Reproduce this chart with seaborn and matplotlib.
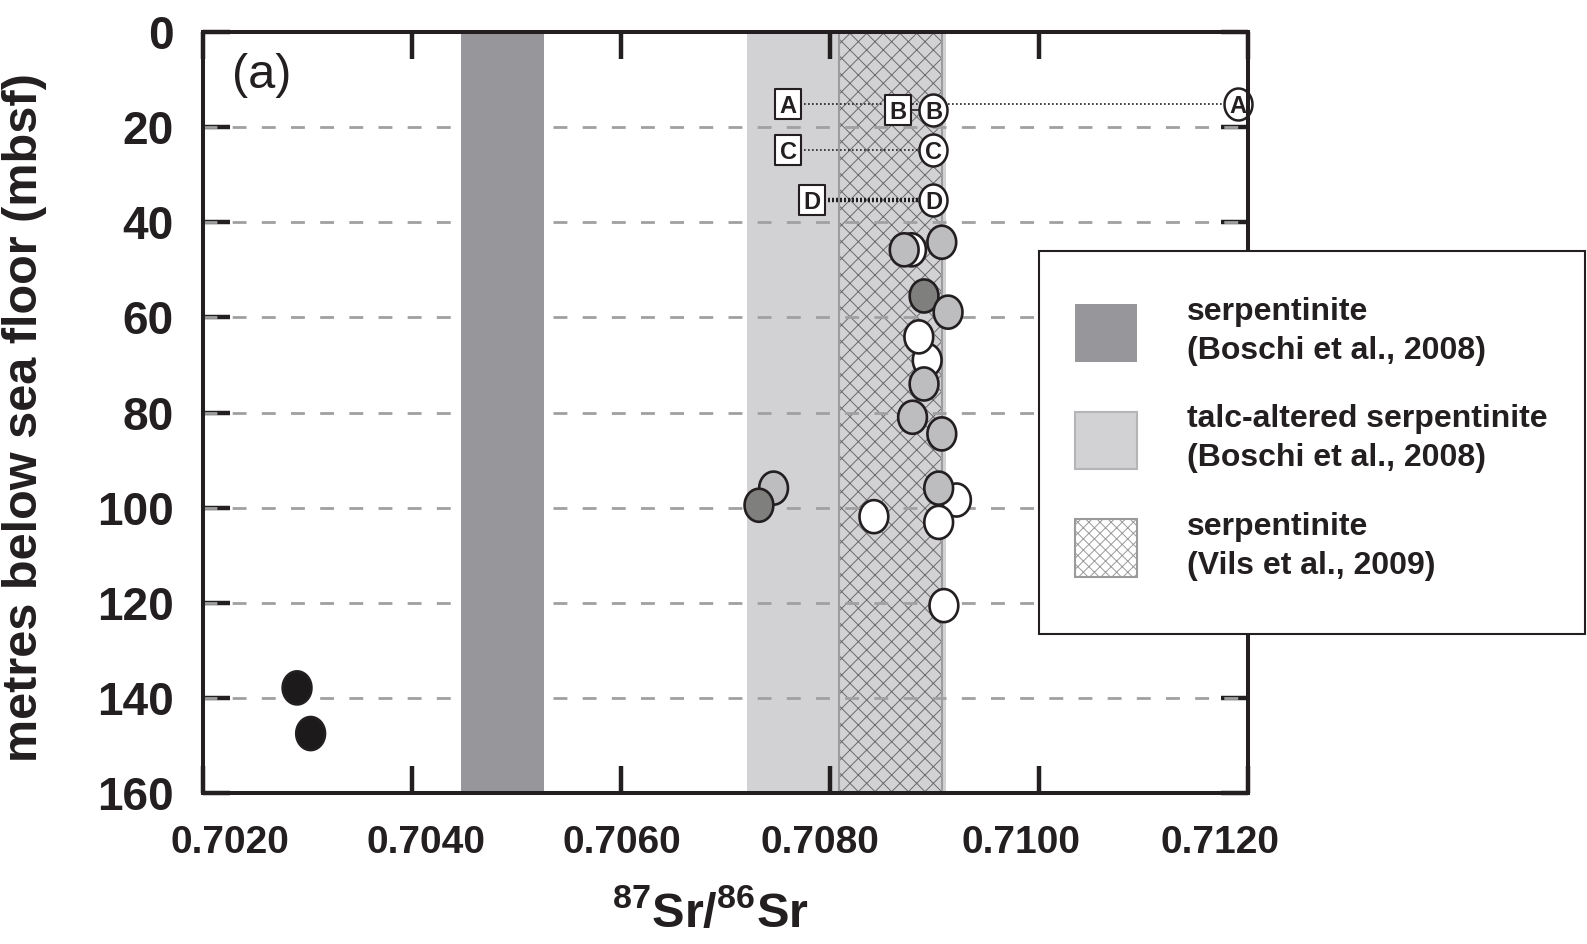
import numpy as np
import pandas as pd
import matplotlib
matplotlib.use("Agg")
import matplotlib.pyplot as plt
import seaborn as sns
from matplotlib.path import Path
from matplotlib.patches import Patch, Rectangle
from matplotlib.transforms import ScaledTranslation

# ---------------- data ----------------
# sample points: 87Sr/86Sr vs depth (mbsf), in drawing order
sr_ratio = [0.70878, 0.70871, 0.70907, 0.70890, 0.70913,
            0.70893, 0.70885, 0.70890, 0.70879, 0.70907,
            0.70746, 0.70732, 0.70921, 0.70904, 0.70904,
            0.70842, 0.70909, 0.70290, 0.70303]
depth = [45.8, 45.8, 44.2, 55.5, 58.9,
         69.0, 64.1, 74.0, 81.0, 84.5,
         95.9, 99.5, 98.4, 95.9, 103.1,
         101.9, 120.6, 137.9, 147.5]
sample_type = ["white", "gray", "gray", "dark", "gray",
               "white", "white", "gray", "gray", "gray",
               "gray", "dark", "white", "gray", "white",
               "white", "white", "black", "black"]

# fluid labels A-D: square (one end) and circle (other end)
fluid_letters = ["A", "B", "C", "D"]
square_sr = [0.70760, 0.70865, 0.70760, 0.70783]
circle_sr = [0.71190, 0.70899, 0.70899, 0.70899]
fluid_depth = [15.2, 16.3, 24.8, 35.3]

# reference ranges
band_serp_boschi = (0.70447, 0.70526)
band_talc_boschi = (0.70721, 0.70911)
band_serp_vils = (0.70809, 0.70907)

legend_labels = ["serpentinite\n(Boschi et al., 2008)",
                 "talc-altered serpentinite\n(Boschi et al., 2008)",
                 "serpentinite\n(Vils et al., 2009)"]

xtick_vals = [0.702, 0.704, 0.706, 0.708, 0.710, 0.712]
xtick_labels = ["0.7020", "0.7040", "0.7060", "0.7080", "0.7100", "0.7120"]
ytick_vals = [0, 20, 40, 60, 80, 100, 120, 140, 160]
ytick_labels = ["0", "20", "40", "60", "80", "100", "120", "140", "160"]
grid_depths = [20, 40, 60, 80, 100, 120, 140]

# horizontal nudges (pixels) of x tick labels, as typeset in the original
xlabel_nudge_px = [27, 14, 1, -10, -18, -28]

# ---------------- style ----------------
sns.set_style("white")
plt.rcParams["font.family"] = ["Liberation Sans", "DejaVu Sans"]
plt.rcParams["mathtext.fontset"] = "custom"
plt.rcParams["mathtext.bf"] = "Liberation Sans:bold"
plt.rcParams["mathtext.rm"] = "Liberation Sans"
plt.rcParams["mathtext.default"] = "bf"
plt.rcParams["hatch.linewidth"] = 0.7

INK = "#231f20"
col_dark_band = "#97969b"
col_light_band = "#d2d2d4"
type_colors = {"black": "#1c1a1b", "dark": "#7f807e",
               "gray": "#bdbdbf", "white": "#ffffff"}

W, H = 1587, 944
fig = plt.figure(figsize=(W / 100, H / 100), dpi=100)
ax = fig.add_axes([203 / W, 1 - 793 / H, 1045 / W, 761 / H])
ax.set_xlim(0.702, 0.712)
ax.set_ylim(160, 0)

# bands
ax.axvspan(*band_talc_boschi, facecolor=col_light_band, edgecolor="none", zorder=0.5)
ax.axvspan(*band_serp_vils, facecolor=col_light_band, edgecolor="none", zorder=0.6)
ax.axvspan(*band_serp_vils, facecolor="none", edgecolor="#6a6a6c", hatch="xx",
           linewidth=0, zorder=0.7)
ax.axvspan(*band_serp_vils, facecolor="none", edgecolor="#9c9c9e",
           linewidth=1.5, zorder=0.8)

# dashed grid
for g in grid_depths:
    ax.axhline(g, color="#a0a0a0", linewidth=2.0, linestyle=(0, (5, 5.5)), zorder=1)

ax.axvspan(*band_serp_boschi, facecolor=col_dark_band, edgecolor="none", zorder=1.5)

# connector lines for fluids
line_styles = [dict(linestyle=(0, (1, 1.4)), linewidth=1.2),
               dict(linestyle="-", linewidth=1.2),
               dict(linestyle=(0, (1, 1.4)), linewidth=1.2),
               dict(linestyle=(0, (0.45, 0.45)), linewidth=3.2)]
for i in range(len(fluid_letters)):
    ax.plot([square_sr[i], circle_sr[i]], [fluid_depth[i], fluid_depth[i]],
            color=INK, zorder=2, **line_styles[i])

# markers
t = np.linspace(0, 2 * np.pi, 80)
ellipse_pts = Path(np.column_stack([0.87 * np.cos(t), np.sin(t)]), closed=True)
ellipse_lab = Path(np.column_stack([0.875 * np.cos(t), np.sin(t)]), closed=True)
rect_lab = Path([(-0.9, -1), (0.9, -1), (0.9, 1), (-0.9, 1), (-0.9, -1)], closed=True)

df = pd.DataFrame({"sr": sr_ratio, "depth": depth, "type": sample_type})
sns.scatterplot(data=df, x="sr", y="depth", hue="type", palette=type_colors,
                marker=ellipse_pts, s=566, edgecolor=INK, linewidth=1.9,
                legend=False, ax=ax, zorder=3)

df_sq = pd.DataFrame({"sr": square_sr, "depth": fluid_depth})
df_ci = pd.DataFrame({"sr": circle_sr, "depth": fluid_depth})
sns.scatterplot(data=df_sq, x="sr", y="depth", marker=rect_lab, s=437,
                color="white", edgecolor=INK, linewidth=1.5, legend=False,
                ax=ax, zorder=4, clip_on=False)
sns.scatterplot(data=df_ci, x="sr", y="depth", marker=ellipse_lab, s=530,
                color="white", edgecolor=INK, linewidth=1.8, legend=False,
                ax=ax, zorder=4, clip_on=False)
for i, L in enumerate(fluid_letters):
    for xx in (square_sr[i], circle_sr[i]):
        ax.text(xx, fluid_depth[i], L, ha="center", va="center_baseline",
                fontsize=17, fontweight="bold", color=INK, zorder=6)

# axes styling
for sp in ax.spines.values():
    sp.set_linewidth(2.9)
    sp.set_color(INK)
    sp.set_zorder(7)
ax.set_xticks(xtick_vals)
ax.set_xticklabels(xtick_labels, fontsize=28, fontweight="bold", color=INK)
ax.set_yticks(ytick_vals)
ax.set_yticklabels(ytick_labels, fontsize=33, fontweight="bold", color=INK)
ax.tick_params(axis="both", direction="in", length=19.5, width=3.2, color=INK,
               top=True, right=True, bottom=True, left=True)
ax.tick_params(axis="x", pad=23)
ax.tick_params(axis="y", pad=21)
ax.set_xlabel("")
ax.set_ylabel("")
for lab, dx in zip(ax.get_xticklabels(), xlabel_nudge_px):
    lab.set_transform(lab.get_transform()
                      + ScaledTranslation(dx / 100, 0, fig.dpi_scale_trans))

ax.text(0.028, 0.943, "(a)", transform=ax.transAxes, ha="left", va="center",
        fontsize=35, color=INK)

fig.text(25 / W, 1 - 418 / H, "metres below sea floor (mbsf)", rotation=90,
         ha="center", va="center", fontsize=35, fontweight="bold", color=INK)
fig.text(710 / W, 1 - 913 / H, r"$^{87}$Sr/$^{86}$Sr", ha="center",
         va="center", fontsize=35, fontweight="bold", color=INK)

# legend: framed box + frameless legend content
box = Rectangle((1039 / W, 1 - 634 / H), 546 / W, 383 / H,
                transform=fig.transFigure, facecolor="white", edgecolor=INK,
                linewidth=1.5, clip_on=False, zorder=9)
ax.add_artist(box)
handles = [Patch(facecolor=col_dark_band, edgecolor="none"),
           Patch(facecolor=col_light_band, edgecolor="#b5b5b7", linewidth=1.5),
           Patch(facecolor="white", edgecolor="#9a9a9a", hatch="xxx", linewidth=1.5)]
leg = ax.legend(handles, legend_labels, loc="upper left",
                bbox_to_anchor=(1033 / W, 1 - 255 / H),
                bbox_transform=fig.transFigure, borderaxespad=0,
                prop={"size": 23, "weight": "bold"}, handlelength=1.95,
                handleheight=2.4, handletextpad=1.57, borderpad=1.3,
                labelspacing=1.2, frameon=False)
leg.set_zorder(10)
for txt in leg.get_texts():
    txt.set_color(INK)
    txt.set_linespacing(1.4)

fig.savefig("out.png", dpi=100)
